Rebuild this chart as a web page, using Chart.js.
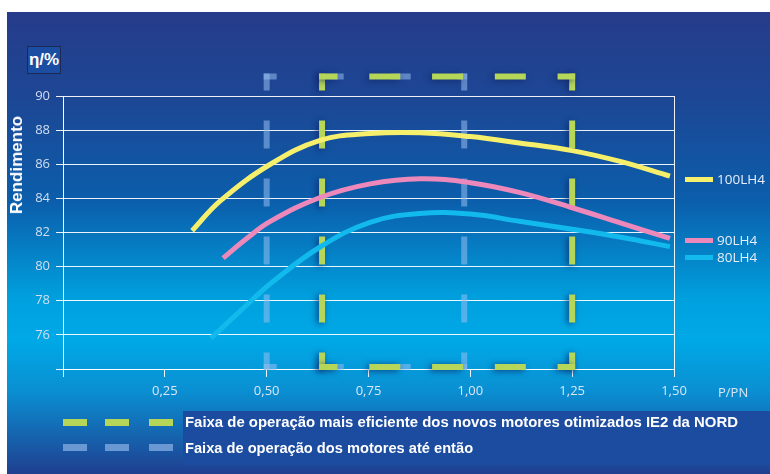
<!DOCTYPE html>
<html>
<head>
<meta charset="utf-8">
<script src="https://cdn.jsdelivr.net/npm/chart.js@4.4.0/dist/chart.umd.min.js"></script>
<style>
  body { margin: 0; width: 770px; height: 474px; background: #fff; position: relative; overflow: hidden; font-family: "Open Sans", sans-serif; }
  #panel { position: absolute; left: 7px; top: 12px; width: 763px; height: 462px;
    background: linear-gradient(to bottom, #263c8a 0%, #1c4795 19%, #0b5eab 41%, #00a0de 62%, #00a9e6 71%, #0a8fd2 82%, #1f3f90 100%); }
  #wrap { position: absolute; left: 0; top: 0; width: 770px; height: 474px; }
  .abs { position: absolute; white-space: nowrap; }
  #eta { left: 27px; top: 46px; width: 34px; height: 28px; background: #1b4ea3; border: 1px solid #1a2a55; box-sizing: border-box;
    color: #fff; font: bold 17px "Liberation Sans", sans-serif; text-align: center; line-height: 26px; }
  #ytitle { left: 17px; top: 165px; color: #fff; font: bold 17px "Liberation Sans", sans-serif; transform: translate(-50%, -50%) rotate(-90deg); }
  #ppn { left: 718px; top: 383px; color: #dbe6f5; font: 13px "Open Sans", sans-serif; line-height: 18px; }
  .lg { color: #e8eef8; font: 13.5px "Open Sans", sans-serif; line-height: 18px; }
  .dash { position: absolute; height: 5px; }
  #legbox { left: 183px; top: 411px; width: 587px; height: 54px; background: #1b4ca0; }
  .bl { color: #fff; font: bold 15px "Liberation Sans", sans-serif; line-height: 16px; transform-origin: left center; }
</style>
</head>
<body>
<div id="panel"></div>
<div id="legbox" class="abs"></div>
<div id="wrap"><canvas id="effChart" width="770" height="474"></canvas></div>
<div id="eta" class="abs">η/%</div>
<div id="ytitle" class="abs">Rendimento</div>
<div id="ppn" class="abs">P/PN</div>
<div id="sideLegend"></div>
<div id="bl1" class="abs bl" style="left:185px; top:414px;">Faixa de operação mais eficiente dos novos motores otimizados IE2 da NORD</div>
<div id="bl2" class="abs bl" style="left:185px; top:440px;">Faixa de operação dos motores até então</div>
<div id="bottomDashes"></div>
<script>
// valores (P/PN -> rendimento %)
const motores = ["100LH4", "90LH4", "80LH4"];

const carga100 = [0.317, 0.386, 0.509, 0.631, 0.754, 0.877, 1.00, 1.12, 1.25, 1.37, 1.49];
const rend100 = [82.1, 83.85, 86.0, 87.4, 87.8, 87.85, 87.62, 87.25, 86.8, 86.15, 85.3];

const carga90 = [0.393, 0.451, 0.509, 0.631, 0.754, 0.877, 1.00, 1.12, 1.25, 1.37, 1.49];
const rend90 = [80.5, 81.65, 82.65, 84.05, 84.85, 85.15, 84.92, 84.35, 83.45, 82.55, 81.65];

const carga80 = [0.363, 0.451, 0.509, 0.631, 0.754, 0.877, 1.00, 1.12, 1.25, 1.37, 1.49];
const rend80 = [75.8, 77.75, 79.0, 81.15, 82.6, 83.12, 83.08, 82.66, 82.19, 81.72, 81.17];

// faixas de operação (P/PN) e altura das caixas tracejadas
const faixaNova = [0.636, 1.25];
const faixaAntiga = [0.5, 0.985];
const faixaRend = [74.12, 91.14];

const yTicks = [74, 76, 78, 80, 82, 84, 86, 88, 90];
const xTicks = [0, 0.25, 0.5, 0.75, 1.0, 1.25, 1.5];

const cores = ["#f6ef6c", "#ec88ba", "#12b9ec"];
const verde = "#b6d65a";
const azulClaro = "rgba(150, 190, 240, 0.55)";

function pontos(xs, ys) {
    return xs.map((x, i) => ({ x: x, y: ys[i] }));
}

function curva(label, xs, ys, cor) {
    return {
        label: label,
        data: pontos(xs, ys),
        borderColor: cor,
        borderWidth: 5,
        pointRadius: 0,
        tension: 0.4,
        fill: false
    };
}

// one dataset per box edge so each side gets its own dash fit
function caixa(xr, yr, cor, dashH, dashV, glow) {
    const lw = 6;
    const lado = (a, b, d) => ({
        data: [a, b],
        borderColor: cor,
        borderWidth: lw,
        borderCapStyle: 'square',
        borderDash: [d[0] - lw, d[1] + lw],
        borderDashOffset: (d[0] - lw) / 2,
        pointRadius: 0,
        clip: false,
        glow: glow
    });
    return [
        lado({ x: xr[0], y: yr[1] }, { x: xr[1], y: yr[1] }, dashH),
        lado({ x: xr[0], y: yr[0] }, { x: xr[1], y: yr[0] }, dashH),
        lado({ x: xr[0], y: yr[1] }, { x: xr[0], y: yr[0] }, dashV),
        lado({ x: xr[1], y: yr[1] }, { x: xr[1], y: yr[0] }, dashV)
    ];
}

const glowPlugin = {
    id: 'glow',
    beforeDatasetDraw(chart, args) {
        if (chart.data.datasets[args.index].glow) {
            const c = chart.ctx;
            c.save();
            c.shadowColor = 'rgba(15, 35, 100, 0.75)';
            c.shadowBlur = 6;
            c.shadowOffsetX = -2;
            c.shadowOffsetY = 1;
        }
    },
    afterDatasetDraw(chart, args) {
        if (chart.data.datasets[args.index].glow) chart.ctx.restore();
    }
};

const datasets = [
    curva(motores[0], carga100, rend100, cores[0]),
    curva(motores[1], carga90, rend90, cores[1]),
    curva(motores[2], carga80, rend80, cores[2]),
    ...caixa(faixaNova, faixaRend, verde, [31, 31.75], [28, 30], true),
    ...caixa(faixaAntiga, faixaRend, azulClaro, [20, 47], [28, 30], false)
];

const branco = 'rgba(255, 255, 255, 0.92)';
const tickFont = { family: "'Open Sans', sans-serif", size: 13 };

new Chart(document.getElementById('effChart').getContext('2d'), {
    type: 'line',
    data: { datasets: datasets },
    options: {
        responsive: false,
        animation: false,
        events: [],
        layout: { padding: { left: 0, top: 96, right: 96, bottom: 65 } },
        plugins: { legend: { display: false }, tooltip: { enabled: false } },
        scales: {
            x: {
                type: 'linear',
                min: 0,
                max: 1.5,
                afterFit: s => { s.height = 40; },
                afterBuildTicks: s => { s.ticks = xTicks.map(v => ({ value: v })); },
                ticks: {
                    color: '#dbe6f5',
                    font: tickFont,
                    padding: 6,
                    maxRotation: 0,
                    callback: v => v === 0 ? '' : v.toFixed(2).replace('.', ',')
                },
                grid: {
                    color: c => (c.tick && (c.tick.value === 0 || c.tick.value === 1.5)) ? branco : 'rgba(0,0,0,0)',
                    tickColor: branco,
                    tickLength: 8,
                    lineWidth: 1
                },
                border: { color: branco, width: 1 }
            },
            y: {
                min: 74,
                max: 90,
                afterFit: s => { s.width = 63; },
                afterBuildTicks: s => { s.ticks = yTicks.map(v => ({ value: v })); },
                ticks: {
                    color: '#d2def0',
                    font: tickFont,
                    padding: 6,
                    callback: v => v === 74 ? '' : v
                },
                grid: { color: branco, tickColor: branco, tickLength: 7, lineWidth: 1 },
                border: { color: branco, width: 1 }
            }
        }
    },
    plugins: [glowPlugin]
});

// legenda lateral
const sideY = [179, 240, 257];
let side = '';
motores.forEach((m, i) => {
    side += '<div class="dash" style="left:685px; top:' + (sideY[i] - 2.5) + 'px; width:28px; background:' + cores[i] + ';"></div>';
    side += '<div class="abs lg" style="left:717px; top:' + (sideY[i] - 9) + 'px;">' + m + '</div>';
});
document.getElementById('sideLegend').innerHTML = side;

// legenda de baixo: tracinhos
const dashX = [63, 105, 149];
let bd = '';
dashX.forEach(x => {
    bd += '<div class="dash" style="left:' + x + 'px; top:419px; width:24px; height:7px; background:' + verde + ';"></div>';
    bd += '<div class="dash" style="left:' + x + 'px; top:444px; width:24px; height:7px; background:#6a98d2;"></div>';
});
document.getElementById('bottomDashes').innerHTML = bd;

// fit bottom legend text widths
function ajusta(id, largura) {
    const el = document.getElementById(id);
    el.style.transform = 'scaleX(' + (largura / el.offsetWidth) + ')';
}
ajusta('bl1', 553);
ajusta('bl2', 288);
</script>
</body>
</html>
